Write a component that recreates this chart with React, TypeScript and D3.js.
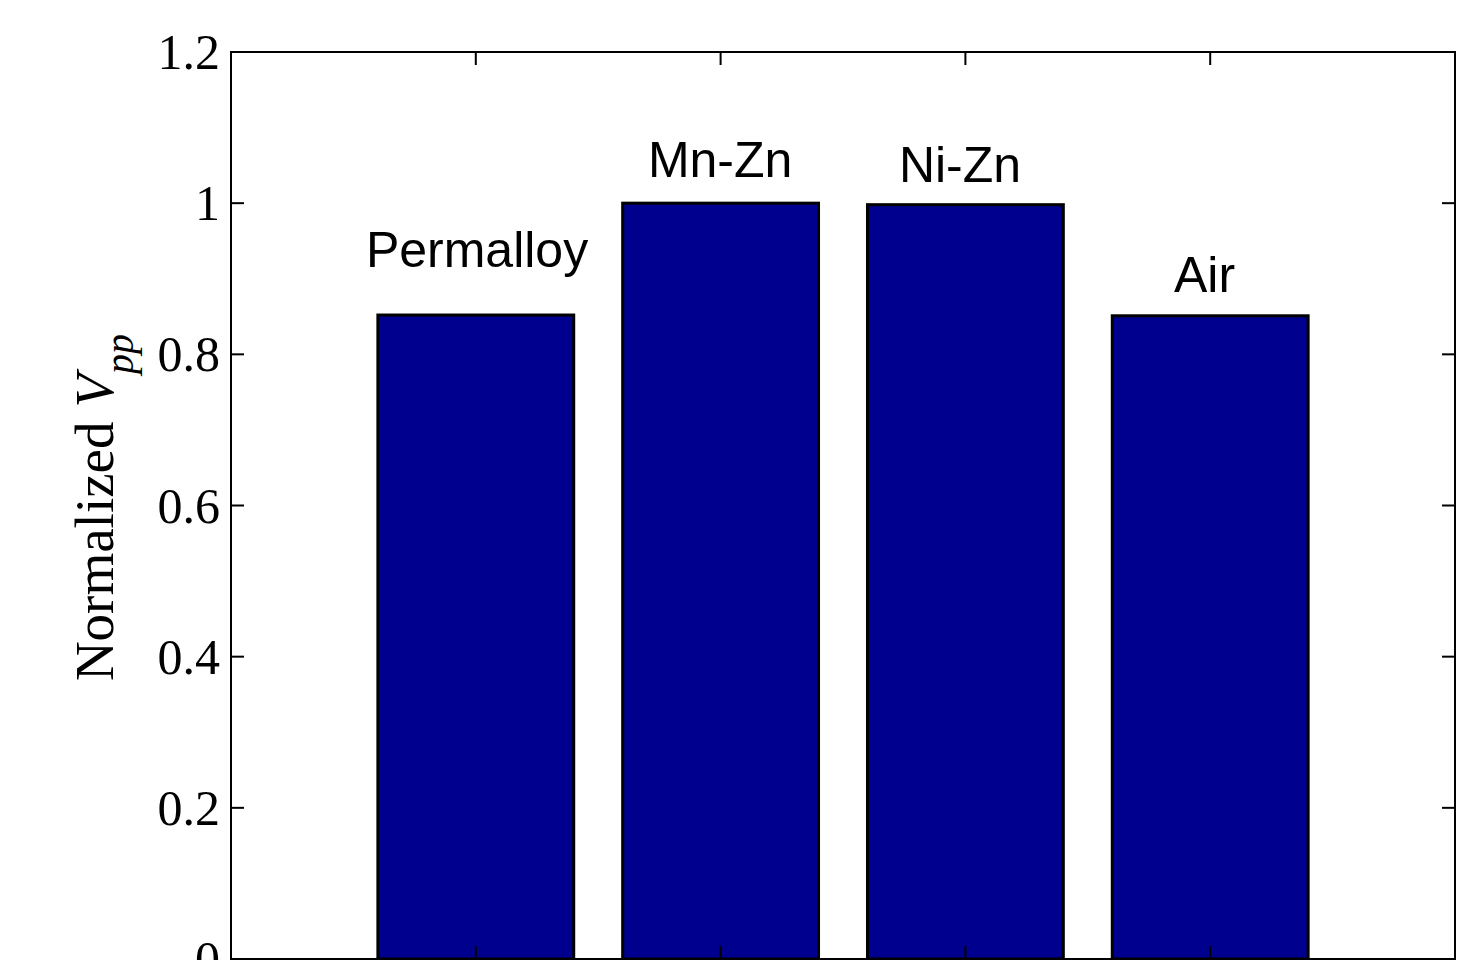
import React from "react";
import * as d3 from "d3";

const categories = ["Permalloy", "Mn-Zn", "Ni-Zn", "Air"];
const values = [0.852, 1.0, 0.998, 0.851];
const labelX = [1.005, 1.998, 2.978, 3.977];
const labelY = [0.9156, 1.0346, 1.028, 0.8825];
const yTicks = [0, 0.2, 0.4, 0.6, 0.8, 1, 1.2];
const xTicks = [1, 2, 3, 4];

export default function App() {
  const W = 1476, H = 960;
  const left = 231, right = 1455, top = 52, bottom = 959;
  const x = d3.scaleLinear().domain([0, 5]).range([left, right]);
  const y = d3.scaleLinear().domain([0, 1.2]).range([bottom, top]);
  const barW = x(0.8) - x(0);
  const tick = 13;
  const fmt = (v: number) => (v === 0 ? "0" : v === 1 ? "1" : d3.format(".1f")(v));
  return (
    <svg width={W} height={H} style={{ position: "absolute", left: 0, top: 0, background: "#fff" }}>
      <rect x={0} y={0} width={W} height={H} fill="#fff" />
      {values.map((v, i) => (
        <rect
          key={i}
          x={x(i + 1) - barW / 2}
          y={y(v)}
          width={barW}
          height={y(0) - y(v)}
          fill="#00008f"
          stroke="#000"
          strokeWidth={3}
        />
      ))}
      {categories.map((c, i) => (
        <text
          key={c}
          x={x(labelX[i])}
          y={y(labelY[i])}
          textAnchor="middle"
          fontFamily="'Liberation Sans', Arial, sans-serif"
          fontSize={50}
          fill="#000"
        >
          {c}
        </text>
      ))}
      <rect x={left} y={top} width={right - left} height={bottom - top} fill="none" stroke="#000" strokeWidth={2} />
      {yTicks.map((t) => (
        <g key={t}>
          <line x1={left} x2={left + tick} y1={y(t)} y2={y(t)} stroke="#000" strokeWidth={2} />
          <line x1={right} x2={right - tick} y1={y(t)} y2={y(t)} stroke="#000" strokeWidth={2} />
          <text
            x={220}
            y={y(t)}
            dy="0.34em"
            textAnchor="end"
            fontFamily="'Liberation Serif', 'Times New Roman', serif"
            fontSize={50}
            fill="#000"
          >
            {fmt(t)}
          </text>
        </g>
      ))}
      {xTicks.map((t) => (
        <g key={t}>
          <line x1={x(t)} x2={x(t)} y1={top} y2={top + tick} stroke="#000" strokeWidth={2} />
          <line x1={x(t)} x2={x(t)} y1={bottom} y2={bottom - tick} stroke="#000" strokeWidth={2} />
        </g>
      ))}
      <text
        transform={`translate(113, ${(top + bottom) / 2 + 2}) rotate(-90)`}
        textAnchor="middle"
        fontFamily="'Liberation Serif', 'Times New Roman', serif"
        fontSize={55}
        fill="#000"
      >
        Normalized<tspan dx={14} fontStyle="italic">V</tspan>
        <tspan fontStyle="italic" fontSize={40} dy={20}>pp</tspan>
      </text>
    </svg>
  );
}
